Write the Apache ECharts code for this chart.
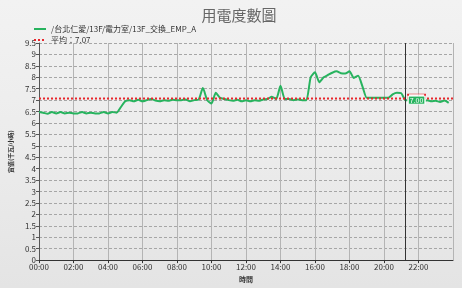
<!DOCTYPE html>
<html>
<head>
<meta charset="utf-8">
<script src="https://cdn.jsdelivr.net/npm/echarts@6/dist/echarts.min.js"></script>
<style>
  html, body { margin: 0; padding: 0; background: #fff; }
  #chart { width: 462px; height: 288px; }
</style>
</head>
<body>
<div id="chart"></div>
<script>
// 每15分鐘一筆 (小時)
var hours = [];
for (var i = 0; i < 96; i++) hours.push(i * 0.25);

var usage = [
  6.48, 6.45, 6.40, 6.48, 6.42, 6.48, 6.42, 6.45,
  6.42, 6.42, 6.48, 6.42, 6.45, 6.42, 6.42, 6.48,
  6.42, 6.48, 6.45, 6.70, 6.95, 7.00, 6.95, 7.02,
  6.95, 7.00, 7.05, 6.98, 6.95, 7.00, 6.97, 7.02,
  7.00, 7.00, 7.03, 6.95, 7.00, 7.02, 7.53, 7.00,
  6.85, 7.32, 7.10, 7.05, 7.00, 6.97, 7.02, 6.95,
  7.00, 6.95, 7.00, 6.97, 7.03, 7.05, 7.15, 7.05,
  7.63, 7.05, 7.05, 7.00, 7.03, 7.00, 7.00, 8.00,
  8.22, 7.78, 8.00, 8.10, 8.20, 8.26, 8.18, 8.16,
  8.26, 7.97, 8.07, 7.60, 7.10, 7.10, 7.10, 7.10,
  7.10, 7.10, 7.25, 7.32, 7.30, 7.00, 7.00, 7.02,
  7.00, 6.95, 7.00, 6.95, 6.97, 6.92, 6.98, 6.88
];

var avgValue = 7.07;
var cursorHour = 21.25;
var cursorValue = 7.00;
var seriesName = '/台北仁愛/13F/電力室/13F_交換_EMP_A';
var avgName = '平均：7.07';

var lineData = hours.map(function (h, i) { return [h, usage[i]]; });

function fmtHour(v) {
    var h = Math.floor(v);
    return (h < 10 ? '0' : '') + h + ':00';
}

var chart = echarts.init(document.getElementById('chart'));
var font = '"Noto Sans CJK TC", "Noto Sans", sans-serif';

var option = {
    animation: false,
    backgroundColor: {
        type: 'linear', x: 0, y: 0, x2: 0, y2: 1,
        colorStops: [
            { offset: 0, color: '#f2f2f2' },
            { offset: 0.5, color: '#ececec' },
            { offset: 1, color: '#e4e4e4' }
        ]
    },
    textStyle: { fontFamily: font },
    title: {
        text: '用電度數圖',
        left: 234,
        top: 3,
        textAlign: 'center',
        textStyle: { fontSize: 15, fontWeight: 'normal', color: '#666', fontFamily: font }
    },
    legend: {
        orient: 'vertical',
        left: 28,
        top: 20,
        itemWidth: 12,
        itemHeight: 6,
        itemGap: 3,
        itemStyle: { color: 'rgba(0,0,0,0)', borderWidth: 0 },
        textStyle: { fontSize: 8, color: '#333', fontFamily: font },
        data: [seriesName, avgName]
    },
    grid: {
        left: 37,
        right: 9,
        top: 43,
        bottom: 27
    },
    xAxis: {
        type: 'value',
        min: 0,
        max: 24,
        interval: 2,
        name: '時間',
        nameLocation: 'middle',
        nameGap: 11,
        nameTextStyle: { fontSize: 7, color: '#333', fontWeight: 'bold' },
        axisLine: { lineStyle: { color: '#333', width: 1 } },
        axisTick: { show: true, length: 3, lineStyle: { color: '#333' } },
        axisLabel: {
            fontSize: 8, color: '#333', margin: 3, showMaxLabel: false,
            formatter: function (v) { return v >= 24 ? '' : fmtHour(v); }
        },
        splitLine: { show: true, lineStyle: { color: '#b4b4b4', width: 1 } }
    },
    yAxis: {
        type: 'value',
        min: 0,
        max: 9.5,
        interval: 0.5,
        name: '實值(千瓦/小時)',
        nameLocation: 'middle',
        nameRotate: 90,
        nameGap: 18,
        nameTextStyle: { fontSize: 6, color: '#333', fontWeight: 'bold' },
        axisLine: { show: true, lineStyle: { color: '#555', width: 1 } },
        axisTick: { show: true, length: 3, lineStyle: { color: '#555' } },
        axisLabel: { fontSize: 8, color: '#333', margin: 3 },
        splitLine: { show: true, lineStyle: { color: '#a6a6a6', type: [3, 2], width: 1 } }
    },
    series: [
        {
            name: seriesName,
            type: 'line',
            data: lineData,
            symbol: 'none',
            smooth: 0.2,
            lineStyle: { color: '#27b35e', width: 2 },
            itemStyle: { color: '#27b35e' },
            z: 3,
            markLine: {
                silent: true,
                symbol: 'none',
                label: { show: false },
                lineStyle: { color: '#333', type: 'solid', width: 1 },
                data: [{ xAxis: cursorHour }]
            },
            markPoint: {
                symbol: 'rect',
                symbolSize: [17, 8],
                symbolOffset: [11, 0],
                itemStyle: { color: '#27b35e', borderColor: '#fff', borderWidth: 1 },
                label: { show: true, color: '#fff', fontSize: 7, formatter: cursorValue.toFixed(2) },
                data: [{ coord: [cursorHour, cursorValue] }],
                z: 6
            }
        },
        {
            name: avgName,
            type: 'line',
            data: [[0, avgValue], [24, avgValue]],
            symbol: 'none',
            lineStyle: { color: '#e8262c', width: 2, type: [2, 2] },
            itemStyle: { color: '#e8262c' },
            z: 4,
            markPoint: {
                symbol: 'rect',
                symbolSize: [17, 5],
                symbolOffset: [11, -2],
                itemStyle: { color: 'rgba(255,255,255,0.6)', borderColor: '#e8262c', borderWidth: 1 },
                label: { show: false },
                data: [{ coord: [cursorHour, avgValue] }],
                z: 5
            }
        }
    ]
};

chart.setOption(option);
</script>
</body>
</html>
